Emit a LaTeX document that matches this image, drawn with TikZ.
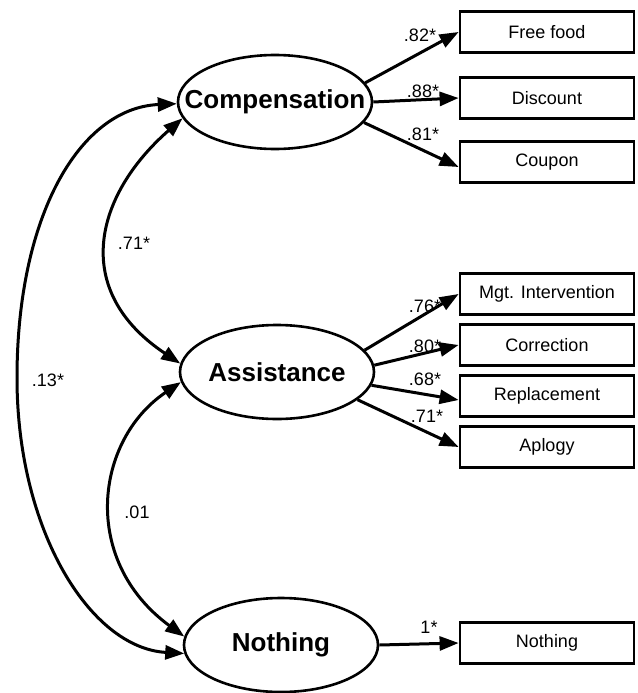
\documentclass[tikz,border=0pt]{standalone}
\usepackage{fontspec}
\setmainfont{Liberation Sans}
\usetikzlibrary{shapes.geometric,arrows.meta,calc}
\begin{document}
\begin{tikzpicture}[x=1pt,y=-1pt,
  lat/.style={ellipse, draw, line width=2.6pt, minimum width=194pt, minimum height=94pt, inner sep=0pt,
    font=\fontsize{26}{29}\selectfont\bfseries},
  obs/.style={rectangle, draw, line width=2.8pt, minimum width=174pt, minimum height=41pt, inner sep=0pt,
    font=\fontsize{18}{20}\selectfont},
  tipA/.tip={Triangle[length=19pt,width=14pt]},
  load/.style={line width=3pt, -tipA},
  cov/.style={line width=3pt, tipA-tipA},
  lab/.style={font=\fontsize{18}{20}\selectfont, inner sep=0pt}]
\useasboundingbox (0,0) rectangle (637,693);

% latent variables
\node[lat] (comp)   at (275,102) {\makebox[0pt]{Compensation}};
\node[lat] (assist) at (277,372) {\makebox[0pt]{Assistance}};
\node[lat] (noth)   at (281,645) {\makebox[0pt]{Nothing}};

% observed variables
\node[obs] (ff)   at (547,32)  {Free food};
\node[obs] (disc) at (547,98)  {Discount};
\node[obs] (coup) at (547,162) {Coupon};
\node[obs] (mgt)  at (547,294) {Mgt. Intervention};
\node[obs] (corr) at (547,345) {Correction};
\node[obs] (repl) at (547,396) {Replacement};
\node[obs] (apl)  at (547,447) {Aplogy};
\node[obs] (nbox) at (547,643) {Nothing};

% loadings
\draw[load] (comp.12) -- (ff.west);
\draw[load] (comp.east) -- (disc.west);
\draw[load] (comp.-13) -- ($(coup.west)+(0,5)$);
\draw[load] (assist.14) -- (mgt.west);
\draw[load] (assist.4) -- (corr.west);
\draw[load] (assist.-8) -- ($(repl.west)+(0,4)$);
\draw[load] (assist.-19) -- (apl.west);
\draw[load] (noth.east) -- (nbox.west);

% loading labels
\node[lab] (l1) at (420,35)  {.82*};
\node[lab] (l2) at (423,91)  {.88*};
\node[lab] (l3) at (423,134) {.81*};
\node[lab] (l4) at (425,306) {.76*};
\node[lab] (l5) at (425,346) {.80*};
\node[lab] (l6) at (425,379) {.68*};
\node[lab] (l7) at (427,416) {.71*};
\node[lab] (l8) at (429,627) {1*};

% covariances
\coordinate (outer) at (17,378);
\draw[cov] (comp.190) .. controls (95,195) and (70,290) .. (assist.175);
\draw[cov] (assist.186) .. controls (95,440) and (80,560) .. (noth.175);
\draw[cov] (comp.181) .. controls (80,108) and (17,215) .. (outer)
                      .. controls (17,530) and (90,648) .. (noth.185);

\node[lab] (c1) at (134,243) {.71*};
\node[lab] (c2) at (48,380)  {.13*};
\node[lab] (c3) at (137,512) {.01};
\end{tikzpicture}
\end{document}
